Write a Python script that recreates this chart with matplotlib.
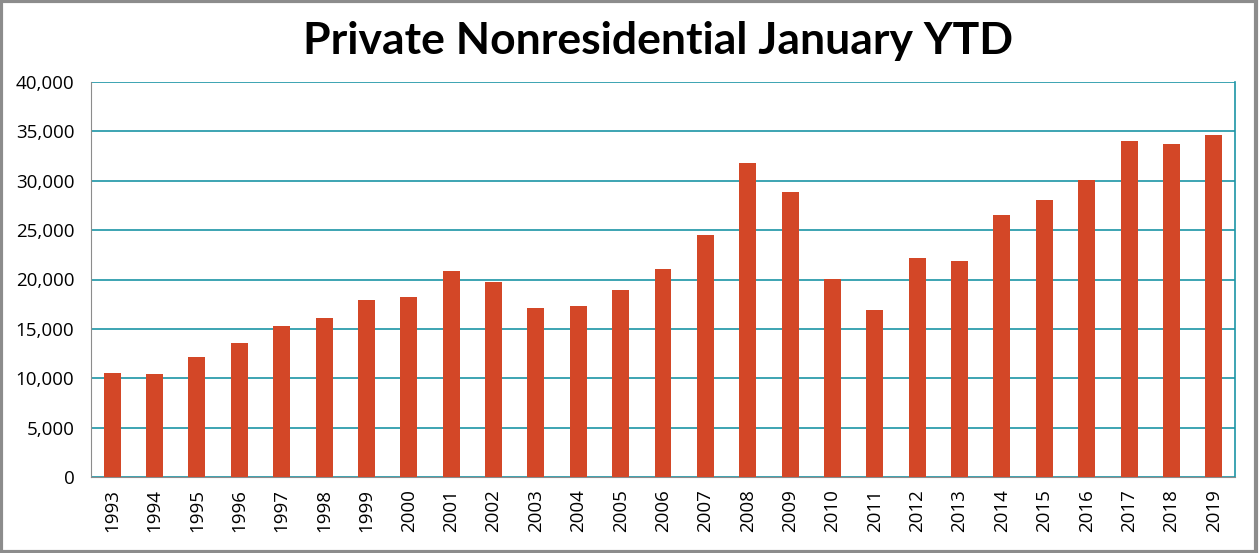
import numpy as np
import matplotlib
matplotlib.use('Agg')
import matplotlib.pyplot as plt
from matplotlib.ticker import FuncFormatter
from matplotlib.patches import Rectangle

# %% data
years = [str(y) for y in range(1993, 2020)]
values = [10550, 10430, 12150, 13600, 15280, 16120, 17900, 18200, 20850,
          19750, 17100, 17300, 18940, 21050, 24480, 31780, 28850, 20050,
          16900, 22150, 21850, 26500, 28080, 30120, 34050, 33750, 34680]
title = 'Private Nonresidential January YTD'

# %% plot
bar_color = '#D34727'
grid_color = '#1B95A5'
spine_color = '#8C8C8C'

fig = plt.figure(figsize=(12.59, 5.53), dpi=100)
ax = fig.add_axes([91/1259, 1-477/553, (1235-91)/1259, (477-82)/553])

x = np.arange(len(years))
ax.bar(x, values, width=0.4, color=bar_color, zorder=3)

ax.set_xlim(-0.5, len(years)-0.5)
ax.set_ylim(0, 40000)
ax.set_yticks(np.arange(0, 40001, 5000))
ax.yaxis.set_major_formatter(FuncFormatter(lambda v, p: f'{int(v):,}'))
ax.set_xticks(x)
ax.set_xticklabels(years, rotation=90)

ax.grid(True, axis='y', color=grid_color, linewidth=1.2, zorder=0)
ax.tick_params(axis='both', length=0, labelsize=13.5, colors='black')
ax.tick_params(axis='x', pad=9)
ax.tick_params(axis='y', pad=12)
for lab in ax.get_xticklabels() + ax.get_yticklabels():
    lab.set_family('Open Sans')

ax.spines['top'].set_visible(False)
ax.spines['right'].set_color(grid_color)
ax.spines['left'].set_color(spine_color)
ax.spines['bottom'].set_color(spine_color)
ax.spines['right'].set_linewidth(1.2)

fig.text(0.523, 0.925, title, ha='center', va='center', fontsize=32,
         fontweight='bold', family='Lato')

# outer border
fig.patches.append(Rectangle((0.001, 0.002), 0.997, 0.996, transform=fig.transFigure,
                             fill=False, edgecolor='#8C8C8C', linewidth=3))

fig.savefig('out.png', dpi=100)
